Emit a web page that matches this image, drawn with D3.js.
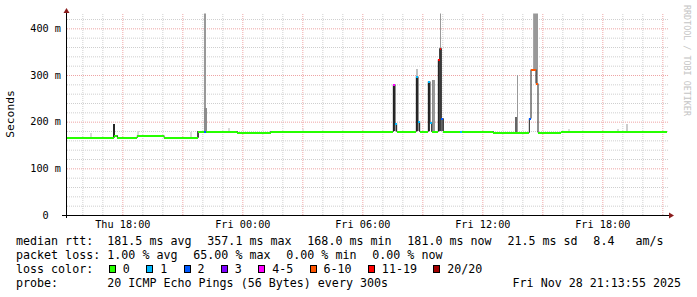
<!DOCTYPE html>
<html>
<head>
<meta charset="utf-8">
<script src="https://cdn.jsdelivr.net/npm/d3@7"></script>
<style>
  html, body { margin: 0; padding: 0; background: #fff; }
  svg { display: block; font-family: "DejaVu Sans Mono", monospace; }
  text { white-space: pre; }
</style>
</head>
<body>
<svg id="chart" width="697" height="297"></svg>
<script>
const parse = d3.utcParse("%Y-%m-%d %H:%M");

// graph window (30h)
const timeStart = "2025-11-27 15:14";
const timeEnd = "2025-11-28 21:14";

// median rtt (ms), one entry per change, with lost pings out of 20
const medianStart = [
  "2025-11-27 15:14", "2025-11-27 17:36", "2025-11-27 17:45", "2025-11-27 18:45",
  "2025-11-27 20:05", "2025-11-27 21:48", "2025-11-27 22:05", "2025-11-27 22:10",
  "2025-11-27 23:45", "2025-11-28 01:25", "2025-11-28 07:33", "2025-11-28 07:38",
  "2025-11-28 07:43", "2025-11-28 08:42", "2025-11-28 08:47", "2025-11-28 08:52",
  "2025-11-28 09:18", "2025-11-28 09:23", "2025-11-28 09:28", "2025-11-28 09:48",
  "2025-11-28 09:52", "2025-11-28 09:57", "2025-11-28 10:03", "2025-11-28 10:54",
  "2025-11-28 10:59", "2025-11-28 12:33", "2025-11-28 14:21", "2025-11-28 14:26",
  "2025-11-28 14:41", "2025-11-28 14:47", "2025-11-28 15:57"
];
const medianRtt = [
  168, 172, 168, 172,
  168, 180, 180, 180,
  177, 181, 280, 197,
  181, 297, 201, 181,
  287, 199, 181, 335,
  357, 207, 181, 181,
  181, 177, 207, 313,
  283, 177, 181
];
const medianLoss = [
  0, 0, 0, 0,
  0, 0, 2, 0,
  0, 0, 5, 1,
  0, 1, 1, 0,
  1, 1, 0, 12,
  12, 2, 0, 1,
  0, 0, 2, 7,
  7, 0, 0
];

// smoke bands: 5 min sample start, band low/high (ms), pings inside the band
const smokeTime = [
  "2025-11-27 16:23", "2025-11-27 17:33", "2025-11-27 18:45", "2025-11-27 21:23",
  "2025-11-27 21:43", "2025-11-27 22:05", "2025-11-27 22:05", "2025-11-27 22:10",
  "2025-11-27 23:17", "2025-11-28 03:00", "2025-11-28 07:33", "2025-11-28 07:38",
  "2025-11-28 08:42", "2025-11-28 08:42", "2025-11-28 08:47", "2025-11-28 09:18",
  "2025-11-28 09:28", "2025-11-28 09:33", "2025-11-28 09:48", "2025-11-28 09:52",
  "2025-11-28 09:52", "2025-11-28 09:57", "2025-11-28 13:38", "2025-11-28 13:43",
  "2025-11-28 14:31", "2025-11-28 14:36", "2025-11-28 14:41", "2025-11-28 16:18",
  "2025-11-28 18:44", "2025-11-28 19:11"
];
const smokeLow = [
  168, 168, 172, 168,
  168, 229, 181, 181,
  181, 181, 181, 181,
  297, 181, 181, 181,
  181, 181, 181, 357,
  181, 181, 177, 177,
  313, 313, 283, 181,
  181, 181
];
const smokeHigh = [
  176, 195, 180, 177,
  181, 440, 229, 229,
  186, 185, 280, 197,
  312, 297, 201, 287,
  289, 289, 335, 440,
  357, 207, 211, 301,
  440, 440, 440, 184,
  185, 195
];
const smokePings = [
  3, 17, 3, 3,
  13, 8, 9, 9,
  3, 2, 16, 9,
  5, 16, 9, 16,
  9, 8, 15, 8,
  15, 12, 12, 8,
  7, 8, 8, 3,
  3, 4
];

const yTicks = [0, 100, 200, 300, 400];
const lossLabels = ["0", "1", "2", "3", "4-5", "6-10", "11-19", "20/20"];
const lossColors = ["#26ff00", "#00b8ff", "#0059ff", "#7e00ff", "#ff00ff", "#ff5500", "#ff0000", "#a10000"];
const rttStats = ["181.5 ms avg", "357.1 ms max", "168.0 ms min", "181.0 ms now", "21.5 ms sd", "8.4   am/s"];
const lossStats = ["1.00 % avg", "65.00 % max", "0.00 % min", "0.00 % now"];
const probeText = "20 ICMP Echo Pings (56 Bytes) every 300s";
const stampText = "Fri Nov 28 21:13:55 2025";

const L = 67, R = 667, T = 13.4, B = 215;
const svg = d3.select("#chart");

const x = d3.scaleUtc().domain([parse(timeStart), parse(timeEnd)]).range([L, R]);
const y = d3.scaleLinear().domain([0, 432]).range([B, T]);
const lossColor = d3.scaleThreshold().domain([1, 2, 3, 4, 6, 11, 20]).range(lossColors);
const smokeShade = d3.scaleLinear().domain([0, 20]).range(["#ffffff", "#000000"]);
const step = t => d3.utcMinute.offset(t, 5);

svg.append("defs").append("clipPath").attr("id", "plot")
  .append("rect").attr("x", L).attr("y", T).attr("width", R - L).attr("height", B - T);

// grid
const minorColor = "#cfcfcf", majorColor = "#eea4a4";
const hourTicks = x.ticks(d3.utcHour.every(1));

svg.append("g")
  .attr("transform", `translate(0,${B})`)
  .call(d3.axisBottom(x).tickValues(hourTicks.filter(d => d.getUTCHours() % 3)).tickSize(-(B - T)).tickFormat(""))
  .call(g => g.select(".domain").remove())
  .call(g => g.selectAll("line").attr("stroke", minorColor).attr("stroke-dasharray", "1,1"));

svg.append("g")
  .attr("transform", `translate(0,${B})`)
  .call(d3.axisBottom(x).tickValues(hourTicks.filter(d => d.getUTCHours() % 3 === 0)).tickSize(-(B - T)).tickFormat(""))
  .call(g => g.select(".domain").remove())
  .call(g => g.selectAll("line").attr("stroke", majorColor).attr("stroke-dasharray", "1,1"));

const minorY = d3.range(20, 432, 20).filter(v => v % 100);
svg.append("g")
  .attr("transform", `translate(${L},0)`)
  .call(d3.axisLeft(y).tickValues(minorY).tickSize(-(R - L + 2)).tickFormat(""))
  .call(g => g.select(".domain").remove())
  .call(g => g.selectAll("line").attr("stroke", minorColor).attr("stroke-dasharray", "1,1"));

svg.append("g")
  .attr("transform", `translate(${L},0)`)
  .call(d3.axisLeft(y).tickValues(yTicks.filter(v => v > 0)).tickSize(-(R - L + 2)).tickFormat(""))
  .call(g => g.select(".domain").remove())
  .call(g => g.selectAll("line").attr("stroke", majorColor).attr("stroke-dasharray", "1,1"));

// smoke
const plot = svg.append("g").attr("clip-path", "url(#plot)");
plot.append("g")
  .selectAll("rect")
  .data(smokeTime.map((t, i) => ({ t: parse(t), lo: smokeLow[i], hi: smokeHigh[i], n: smokePings[i] })))
  .join("rect")
  .attr("x", d => x(d.t))
  .attr("width", d => x(step(d.t)) - x(d.t))
  .attr("y", d => y(d.hi))
  .attr("height", d => y(d.lo) - y(d.hi))
  .attr("fill", d => smokeShade(d.n))
  .attr("shape-rendering", "crispEdges");

// median
const med = medianStart.map((t, i) => ({ t: parse(t), v: medianRtt[i], loss: medianLoss[i] }));
med.forEach((d, i) => { d.t2 = i + 1 < med.length ? med[i + 1].t : parse(timeEnd); });

plot.append("path")
  .datum(med.concat([{ t: parse(timeEnd), v: med[med.length - 1].v }]))
  .attr("fill", "none")
  .attr("stroke", "#202020")
  .attr("stroke-width", 1)
  .attr("d", d3.line().x(d => x(d.t)).y(d => Math.round(y(d.v)) + 0.5).curve(d3.curveStepAfter));

plot.append("g")
  .selectAll("line")
  .data(med)
  .join("line")
  .attr("x1", d => x(d.t))
  .attr("x2", d => x(d.t2))
  .attr("y1", d => Math.round(y(d.v)) + 0.5)
  .attr("y2", d => Math.round(y(d.v)) + 0.5)
  .attr("stroke", d => lossColor(d.loss))
  .attr("stroke-width", 2)
  .attr("shape-rendering", "crispEdges");

// axes
svg.append("g")
  .attr("transform", `translate(${L},0)`)
  .call(d3.axisLeft(y).tickValues(yTicks).tickSize(0).tickPadding(6)
    .tickFormat(v => v === 0 ? "0\u00a0\u00a0" : v + " m"))
  .call(g => g.select(".domain").remove())
  .call(g => g.selectAll("text").attr("font-family", "DejaVu Sans Mono").attr("font-size", 10.2).attr("fill", "#000"));

svg.append("g")
  .attr("transform", `translate(0,${B})`)
  .call(d3.axisBottom(x).ticks(d3.utcHour.every(6)).tickSize(0).tickPadding(5.5)
    .tickFormat(d3.utcFormat("%a %H:%M")))
  .call(g => g.select(".domain").remove())
  .call(g => g.selectAll("text").attr("font-family", "DejaVu Sans Mono").attr("font-size", 10.2).attr("fill", "#000"));

svg.append("line").attr("x1", 62).attr("x2", 669).attr("y1", B + 0.5).attr("y2", B + 0.5)
  .attr("stroke", "#000").attr("shape-rendering", "crispEdges");
svg.append("line").attr("x1", L - 0.5).attr("x2", L - 0.5).attr("y1", B + 3).attr("y2", 12)
  .attr("stroke", "#000").attr("shape-rendering", "crispEdges");
svg.append("path").attr("d", "M669,212.5 L674,215.5 L669,218.5 Z").attr("fill", "#8a1c1c");
svg.append("path").attr("d", "M63.5,13 L66.5,8 L69.5,13 Z").attr("fill", "#8a1c1c");

svg.append("text")
  .attr("transform", "translate(13.5,114) rotate(-90)")
  .attr("text-anchor", "middle")
  .attr("font-size", 11.3)
  .text("Seconds");

svg.append("text")
  .attr("transform", "translate(683.5,5) rotate(90)")
  .attr("font-size", 8.4)
  .attr("fill", "#c4c4c4")
  .text("RRDTOOL / TOBI OETIKER");

// legend
const fs = 11.66, labelX = 16, valX = 107.3, gap = 15.8;
const rowY = [244.7, 258.7, 272.7, 286.7];
const legend = svg.append("g").attr("font-size", fs).attr("fill", "#000");

function statRow(yy, label, items) {
  legend.append("text").attr("x", labelX).attr("y", yy).text(label);
  let cx = valX;
  items.forEach(s => {
    const t = legend.append("text").attr("x", cx).attr("y", yy).text(s);
    cx += t.node().getComputedTextLength() + gap;
  });
}
statRow(rowY[0], "median rtt:", rttStats);
statRow(rowY[1], "packet loss:", lossStats);

legend.append("text").attr("x", labelX).attr("y", rowY[2]).text("loss color:");
let bx = 109.5;
lossLabels.forEach((lab, i) => {
  legend.append("rect").attr("x", bx).attr("y", rowY[2] - 7).attr("width", 6).attr("height", 7)
    .attr("fill", lossColors[i]).attr("stroke", "#000").attr("stroke-width", 1)
    .attr("shape-rendering", "crispEdges");
  const t = legend.append("text").attr("x", bx + 13.3).attr("y", rowY[2]).text(lab);
  bx = bx + 13.3 + t.node().getComputedTextLength() + 17;
});

legend.append("text").attr("x", labelX).attr("y", rowY[3]).text("probe:");
legend.append("text").attr("x", valX).attr("y", rowY[3]).text(probeText);
legend.append("text").attr("x", 681).attr("y", rowY[3]).attr("text-anchor", "end").text(stampText);
</script>
</body>
</html>
